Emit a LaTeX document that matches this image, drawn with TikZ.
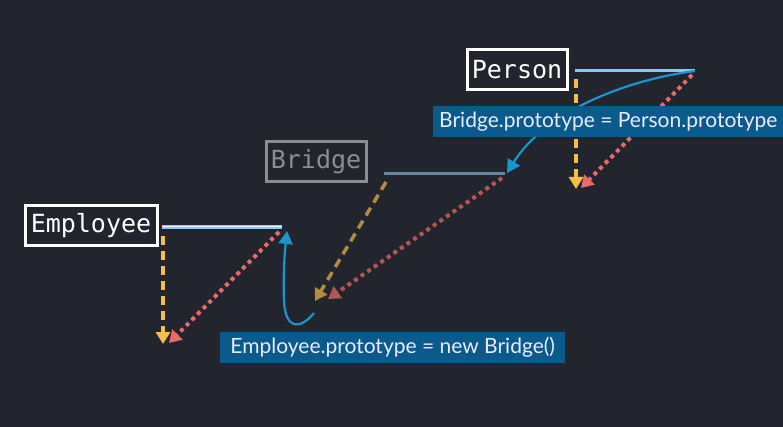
\documentclass[tikz,border=0pt]{standalone}
\usepackage{fontspec}
\setmainfont{Lato}
\setmonofont{DejaVu Sans Mono}
\usetikzlibrary{arrows.meta}
\definecolor{bg}{RGB}{35,37,46}
\definecolor{lblue}{RGB}{130,205,240}
\definecolor{gblue}{RGB}{100,135,160}
\definecolor{ylw}{RGB}{245,190,70}
\definecolor{dylw}{RGB}{175,140,65}
\definecolor{rd}{RGB}{235,105,105}
\definecolor{drd}{RGB}{180,85,85}
\definecolor{arr}{RGB}{25,150,205}
\definecolor{lab}{RGB}{10,90,140}
\definecolor{gry}{RGB}{140,140,145}
\tikzset{
  namebox/.style={draw=white, line width=3pt, fill=bg, text=white, font=\ttfamily\fontsize{25}{25}\selectfont, inner xsep=2pt, inner ysep=3pt, minimum height=40pt},
  proto/.style={line width=3pt},
  ydash/.style={line width=3.5pt, dash pattern=on 9pt off 6pt, -{Triangle[length=12pt,width=14pt]}},
  rdot/.style={line width=4pt, dash pattern=on 4pt off 4pt, -{Triangle[length=12pt,width=14pt]}},
  curv/.style={draw=arr, line width=2.2pt, -{Triangle[length=13pt,width=14pt]}},
  label/.style={fill=lab, text=white!92!blue, font=\fontsize{21}{21}\selectfont, inner xsep=6pt, minimum height=31pt, anchor=west}
}
\begin{document}
\begin{tikzpicture}[x=1pt,y=-1pt]
\fill[bg] (0,0) rectangle (783,427);
\useasboundingbox (0,0) rectangle (783,427);
% Person
\node[namebox, minimum width=100pt] (person) at (517,70) {Person};
\coordinate (pl) at (575,71); \coordinate (pr) at (695,71);
\draw[proto, lblue] (pl) -- (pr);
\coordinate (py0) at (576,79); \coordinate (py1) at (576,189);
\coordinate (pr1) at (581,188);
\draw[ydash, ylw] (py0) -- (py1);
\draw[rdot, rd] (692,75) -- (pr1);
% Bridge
\node[namebox, draw=gry, text=gry, minimum width=100pt] (bridge) at (316,162) {Bridge};
\coordinate (bl) at (384,174); \coordinate (br) at (505,174);
\draw[proto, gblue] (bl) -- (br);
\coordinate (by1) at (315,301); \coordinate (br1) at (328,299);
\draw[ydash, dylw] (386,182) -- (by1);
\draw[rdot, drd] (502,178) -- (br1);
% curved arrow Person -> Bridge
\draw[curv] (pr) .. controls (625,80) and (545,112) .. (507,173);
\node[label, minimum width=350pt] (lab1) at (433,122) {Bridge.prototype = Person.prototype};
% Employee
\node[namebox, minimum width=132pt] (emp) at (91,226) {Employee};
\coordinate (el) at (162,227); \coordinate (er) at (282,227);
\draw[line width=3.5pt, lblue] (el) -- (er);
\draw[line width=1pt, white!85!lblue] (el) -- (er);
\coordinate (ey0) at (163,236); \coordinate (ey1) at (163,344);
\coordinate (er1) at (169,343);
\draw[ydash, ylw] (ey0) -- (ey1);
\draw[rdot, rd] (279,232) -- (er1);
% curved arrow Bridge-instance -> Employee
\coordinate (cs) at (314,313);
\draw[curv] (cs) .. controls (300,330) and (285,330) .. (284,300) .. controls (283,270) and (285,250) .. (287,231);
\node[label, minimum width=345pt] (lab2) at (220,347) {Employee.prototype = new Bridge()};
\end{tikzpicture}
\end{document}
